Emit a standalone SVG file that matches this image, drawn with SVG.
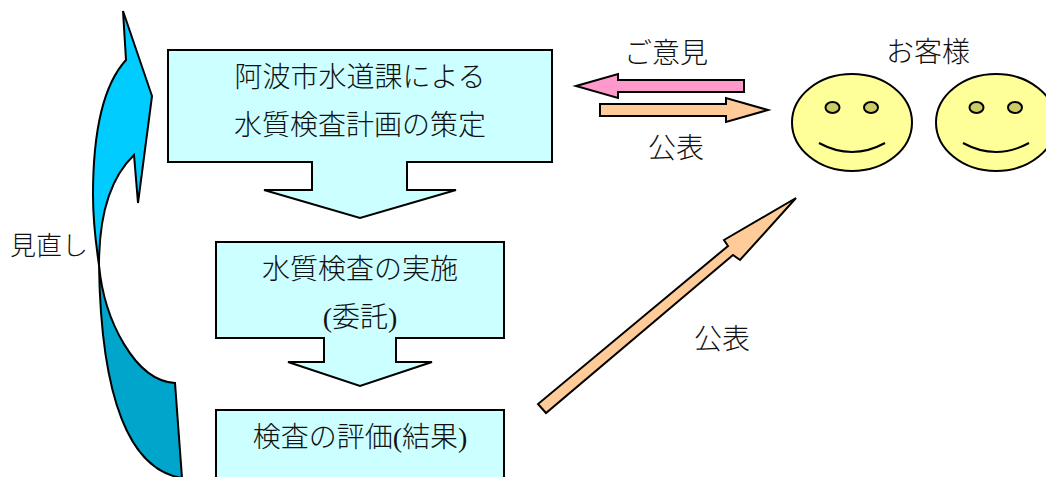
<svg xmlns="http://www.w3.org/2000/svg" width="1046" height="477" viewBox="0 0 1046 477">
<style>
.s{stroke:#000;stroke-width:2;stroke-linejoin:miter}
.b{fill:#ccffff}
.t{font-family:"Liberation Serif","Noto Sans CJK JP",sans-serif;font-size:28px;font-weight:300;fill:#111;text-anchor:middle}
.f{fill:#ffff99}
.e{fill:#cccc66}
.m{fill:none}
</style>
<rect width="1046" height="477" fill="#fff"/>
<g id="connectors">
<path class="s" fill="#00ccff" d="M123 11L126 60C104 84 93 130 93 195C93 225 96 245 99 265C99 215 110 178 134 155L138 203L152 96Z"/>
<path class="s" fill="#00a5cc" d="M99 265C104 320 135 381 175 383L182 478C130 470 101 400 99 265Z"/>
<path class="s" fill="#ff99cc" d="M576 86L618 74V80H744V92H618V98Z"/>
<path class="s" fill="#ffcc99" d="M768 110L726 98V104H600V116H726V122Z"/>
<path class="s" fill="#ffcc99" d="M796 198L724 240L728 246L538 404L546 413L733 255L740 260Z"/>
</g>
<g id="node-plan">
<path class="s b" d="M168 50H552V162H407V190H456L360 218L264 190H312V162H168Z"/>
<text class="t" x="360" y="87">阿波市水道課による</text>
<text class="t" x="360" y="135">水質検査計画の策定</text>
</g>
<g id="node-exec">
<path class="s b" d="M216 242H504V338H396V362H432L360 386L288 362H324V338H216Z"/>
<text class="t" x="360" y="279">水質検査の実施</text>
<text class="t" x="360" y="327">(委託)</text>
</g>
<g id="node-eval">
<rect class="s b" x="216" y="410" width="288" height="80"/>
<text class="t" x="360" y="447">検査の評価(結果)</text>
</g>
<g id="face-1">
<ellipse class="s f" cx="852" cy="122.5" rx="60" ry="48.5"/>
<ellipse class="s e" cx="832.5" cy="107.500" rx="7" ry="5.5"/>
<ellipse class="s e" cx="871" cy="107.500" rx="7" ry="5.5"/>
<path class="s m" d="M819 143Q852 161 885 143"/>
</g>
<g id="face-2">
<ellipse class="s f" cx="996" cy="122.5" rx="60" ry="48.5"/>
<ellipse class="s e" cx="976.5" cy="107.500" rx="7" ry="5.5"/>
<ellipse class="s e" cx="1015" cy="107.500" rx="7" ry="5.5"/>
<path class="s m" d="M963 143Q996 161 1029 143"/>
</g>
<g id="labels">
<text class="t" x="666" y="63">ご意見</text>
<text class="t" x="928" y="62">お客様</text>
<text class="t" x="676" y="158">公表</text>
<text class="t" x="722" y="349">公表</text>
<text class="t" x="49" y="255" style="font-size:26px">見直し</text>
</g>
</svg>
